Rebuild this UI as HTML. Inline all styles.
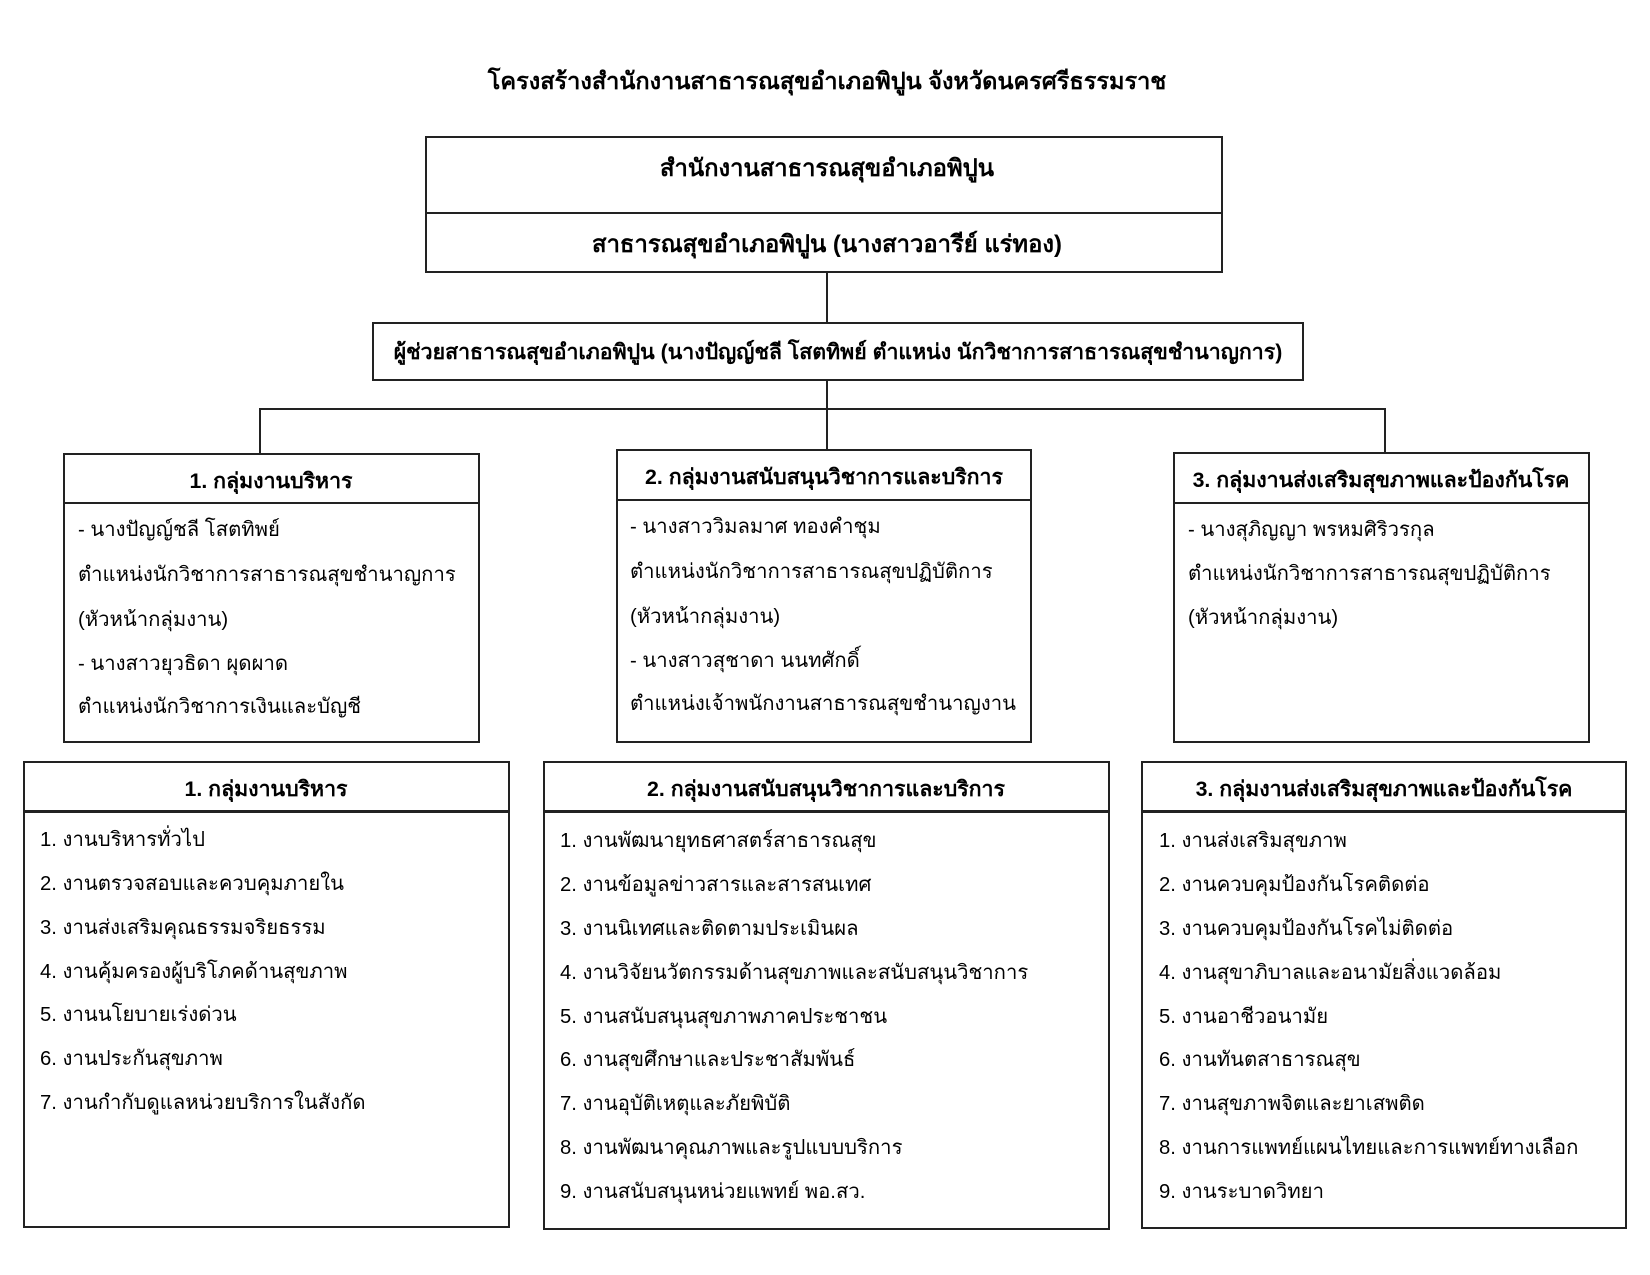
<!DOCTYPE html>
<html><head><meta charset="utf-8">
<style>
html,body{margin:0;padding:0;background:#fff;}
body{width:1650px;height:1275px;position:relative;overflow:hidden;font-family:"Liberation Sans","DejaVu Sans","Noto Sans CJK SC",sans-serif;color:#000;}
.b{position:absolute;border:2px solid #222;box-sizing:border-box;}
.h{position:absolute;background:#222;height:2px;}
.v{position:absolute;background:#222;width:2px;}
.t{position:absolute;white-space:nowrap;font-size:20.3px;line-height:30px;}
.c{transform:translateX(-50%);}
.bold{font-weight:bold;font-size:21.3px;}
</style></head><body>

<div class="t c bold" style="left:827px;top:66px;font-size:23.5px;">โครงสร้างสำนักงานสาธารณสุขอำเภอพิปูน จังหวัดนครศรีธรรมราช</div>

<div class="b" style="left:425px;top:136px;width:798px;height:137px;"></div>
<div class="h" style="left:425px;top:212px;width:798px;"></div>
<div class="t c bold" style="left:827px;top:154px;font-size:23.8px;">สำนักงานสาธารณสุขอำเภอพิปูน</div>
<div class="t c bold" style="left:827px;top:230px;font-size:23.8px;">สาธารณสุขอำเภอพิปูน (นางสาวอารีย์ แร่ทอง)</div>

<div class="v" style="left:826px;top:272px;height:51px;"></div>
<div class="b" style="left:372px;top:322px;width:932px;height:59px;"></div>
<div class="t c bold" style="left:838px;top:337px;">ผู้ช่วยสาธารณสุขอำเภอพิปูน (นางปัญญ์ชลี โสตทิพย์ ตำแหน่ง นักวิชาการสาธารณสุขชำนาญการ)</div>

<div class="v" style="left:826px;top:380px;height:70px;"></div>
<div class="h" style="left:259px;top:408px;width:1127px;"></div>
<div class="v" style="left:259px;top:408px;height:46px;"></div>
<div class="v" style="left:1384px;top:408px;height:45px;"></div>

<div class="b" style="left:63px;top:453px;width:417px;height:290px;"></div>
<div class="h" style="left:63px;top:502px;width:417px;"></div>
<div class="t c bold" style="left:271px;top:466px;">1. กลุ่มงานบริหาร</div>
<div class="t" style="left:78px;top:515px;">- นางปัญญ์ชลี โสตทิพย์</div>
<div class="t" style="left:78px;top:560px;">ตำแหน่งนักวิชาการสาธารณสุขชำนาญการ</div>
<div class="t" style="left:78px;top:605px;">(หัวหน้ากลุ่มงาน)</div>
<div class="t" style="left:78px;top:649px;">- นางสาวยุวธิดา ผุดผาด</div>
<div class="t" style="left:78px;top:692px;">ตำแหน่งนักวิชาการเงินและบัญชี</div>

<div class="b" style="left:616px;top:449px;width:416px;height:294px;"></div>
<div class="h" style="left:616px;top:499px;width:416px;"></div>
<div class="t c bold" style="left:824px;top:462px;">2. กลุ่มงานสนับสนุนวิชาการและบริการ</div>
<div class="t" style="left:630px;top:512px;">- นางสาววิมลมาศ ทองคำชุม</div>
<div class="t" style="left:630px;top:557px;">ตำแหน่งนักวิชาการสาธารณสุขปฏิบัติการ</div>
<div class="t" style="left:630px;top:602px;">(หัวหน้ากลุ่มงาน)</div>
<div class="t" style="left:630px;top:646px;">- นางสาวสุชาดา นนทศักดิ์</div>
<div class="t" style="left:630px;top:689px;">ตำแหน่งเจ้าพนักงานสาธารณสุขชำนาญงาน</div>

<div class="b" style="left:1173px;top:452px;width:417px;height:291px;"></div>
<div class="h" style="left:1173px;top:502px;width:417px;"></div>
<div class="t c bold" style="left:1381px;top:465px;">3. กลุ่มงานส่งเสริมสุขภาพและป้องกันโรค</div>
<div class="t" style="left:1188px;top:515px;">- นางสุภิญญา พรหมศิริวรกุล</div>
<div class="t" style="left:1188px;top:559px;">ตำแหน่งนักวิชาการสาธารณสุขปฏิบัติการ</div>
<div class="t" style="left:1188px;top:603px;">(หัวหน้ากลุ่มงาน)</div>

<div class="b" style="left:23px;top:761px;width:487px;height:467px;"></div>
<div class="h" style="left:23px;top:810px;width:487px;height:3px;"></div>
<div class="t c bold" style="left:266px;top:774px;">1. กลุ่มงานบริหาร</div>
<div class="t" style="left:40px;top:825px;">1. งานบริหารทั่วไป</div>
<div class="t" style="left:40px;top:869px;">2. งานตรวจสอบและควบคุมภายใน</div>
<div class="t" style="left:40px;top:913px;">3. งานส่งเสริมคุณธรรมจริยธรรม</div>
<div class="t" style="left:40px;top:957px;">4. งานคุ้มครองผู้บริโภคด้านสุขภาพ</div>
<div class="t" style="left:40px;top:1000px;">5. งานนโยบายเร่งด่วน</div>
<div class="t" style="left:40px;top:1044px;">6. งานประกันสุขภาพ</div>
<div class="t" style="left:40px;top:1088px;">7. งานกำกับดูแลหน่วยบริการในสังกัด</div>

<div class="b" style="left:543px;top:761px;width:567px;height:469px;"></div>
<div class="h" style="left:543px;top:810px;width:567px;height:3px;"></div>
<div class="t c bold" style="left:826px;top:774px;">2. กลุ่มงานสนับสนุนวิชาการและบริการ</div>
<div class="t" style="left:560px;top:826px;">1. งานพัฒนายุทธศาสตร์สาธารณสุข</div>
<div class="t" style="left:560px;top:870px;">2. งานข้อมูลข่าวสารและสารสนเทศ</div>
<div class="t" style="left:560px;top:914px;">3. งานนิเทศและติดตามประเมินผล</div>
<div class="t" style="left:560px;top:958px;">4. งานวิจัยนวัตกรรมด้านสุขภาพและสนับสนุนวิชาการ</div>
<div class="t" style="left:560px;top:1002px;">5. งานสนับสนุนสุขภาพภาคประชาชน</div>
<div class="t" style="left:560px;top:1045px;">6. งานสุขศึกษาและประชาสัมพันธ์</div>
<div class="t" style="left:560px;top:1089px;">7. งานอุบัติเหตุและภัยพิบัติ</div>
<div class="t" style="left:560px;top:1133px;">8. งานพัฒนาคุณภาพและรูปแบบบริการ</div>
<div class="t" style="left:560px;top:1177px;">9. งานสนับสนุนหน่วยแพทย์ พอ.สว.</div>

<div class="b" style="left:1141px;top:761px;width:486px;height:468px;"></div>
<div class="h" style="left:1141px;top:810px;width:486px;height:3px;"></div>
<div class="t c bold" style="left:1384px;top:774px;">3. กลุ่มงานส่งเสริมสุขภาพและป้องกันโรค</div>
<div class="t" style="left:1159px;top:826px;">1. งานส่งเสริมสุขภาพ</div>
<div class="t" style="left:1159px;top:870px;">2. งานควบคุมป้องกันโรคติดต่อ</div>
<div class="t" style="left:1159px;top:914px;">3. งานควบคุมป้องกันโรคไม่ติดต่อ</div>
<div class="t" style="left:1159px;top:958px;">4. งานสุขาภิบาลและอนามัยสิ่งแวดล้อม</div>
<div class="t" style="left:1159px;top:1002px;">5. งานอาชีวอนามัย</div>
<div class="t" style="left:1159px;top:1045px;">6. งานทันตสาธารณสุข</div>
<div class="t" style="left:1159px;top:1089px;">7. งานสุขภาพจิตและยาเสพติด</div>
<div class="t" style="left:1159px;top:1133px;">8. งานการแพทย์แผนไทยและการแพทย์ทางเลือก</div>
<div class="t" style="left:1159px;top:1177px;">9. งานระบาดวิทยา</div>

</body></html>
